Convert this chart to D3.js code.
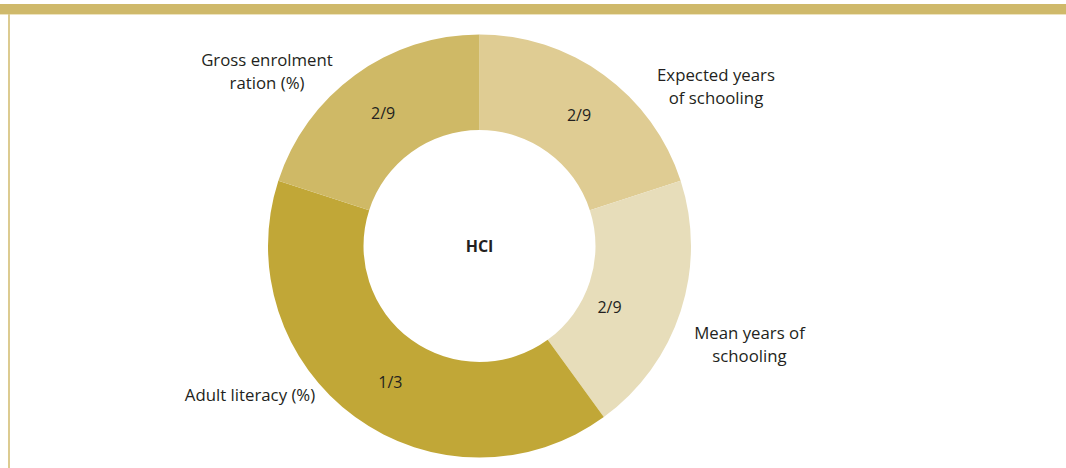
<!DOCTYPE html>
<html>
<head>
<meta charset="utf-8">
<script src="https://cdn.jsdelivr.net/npm/d3@7"></script>
<style>
  html, body { margin: 0; padding: 0; background: #ffffff; }
  svg { display: block; }
  text { font-family: "Open Sans", "Noto Sans", sans-serif; fill: #231f20; }
</style>
</head>
<body>
<svg id="chart" width="1066" height="468"></svg>
<script>
// ---- data ----
const categories = ["Expected years of schooling", "Mean years of schooling", "Adult literacy (%)", "Gross enrolment ration (%)"];
const labelLines = [["Expected years", "of schooling"], ["Mean years of", "schooling"], ["Adult literacy (%)"], ["Gross enrolment", "ration (%)"]];
const values = [1, 1, 2, 1];           // drawn share of each slice
const weightLabels = ["2/9", "2/9", "1/3", "2/9"];
const centerLabel = "HCI";
const colors = ["#dfcc93", "#e7ddba", "#c1a737", "#cfb966"];

// ---- layout ----
const W = 1066, H = 468;
const cx = 479.5, cy = 246;
const rOuter = 211.5, rInner = 116;
const svg = d3.select("#chart");

// frame: top bar and left rule
svg.append("rect").attr("x", 0).attr("y", 4).attr("width", W).attr("height", 10).attr("fill", "#cfb96b");
svg.append("rect").attr("x", 0).attr("y", 14).attr("width", W).attr("height", 1).attr("fill", "#ede3bf");
svg.append("rect").attr("x", 8).attr("y", 14).attr("width", 2).attr("height", H - 14).attr("fill", "#dccb91");

const pie = d3.pie().sort(null).value(d => d)(values);
const arc = d3.arc().innerRadius(rInner).outerRadius(rOuter);
// per-slice label placement tweaks (angle offset in radians, radius)
const labelTweak = [[0.024, 164], [0.13, 144], [-0.05, 163], [0, 164]];

const g = svg.append("g").attr("transform", `translate(${cx},${cy})`);
g.selectAll("path.slice").data(pie).join("path")
  .attr("class", "slice")
  .attr("d", arc)
  .attr("fill", (d, i) => colors[i]);

g.selectAll("text.w").data(pie).join("text")
  .attr("class", "w")
  .attr("transform", (d, i) => {
    const a = (d.startAngle + d.endAngle) / 2 + labelTweak[i][0];
    const r = labelTweak[i][1];
    return `translate(${r * Math.sin(a)},${-r * Math.cos(a)})`;
  })
  .attr("text-anchor", "middle")
  .attr("dy", "0.35em")
  .style("font-size", "16px")
  .text((d, i) => weightLabels[i]);

g.append("text").attr("text-anchor", "middle").attr("dy", "0.35em")
  .style("font-size", "16px").style("font-weight", "bold")
  .text(centerLabel);

// outer category labels (positions in chart pixels)
const outerPos = [[716, 81], [749.5, 339], [250, 401], [267, 66]];
labelLines.forEach((lines, i) => {
  const t = svg.append("text").attr("text-anchor", "middle")
    .attr("x", outerPos[i][0]).attr("y", outerPos[i][1])
    .style("font-size", "16.8px");
  lines.forEach((ln, j) => {
    t.append("tspan").attr("x", outerPos[i][0]).attr("dy", j === 0 ? 0 : 23).text(ln);
  });
});
</script>
</body>
</html>
